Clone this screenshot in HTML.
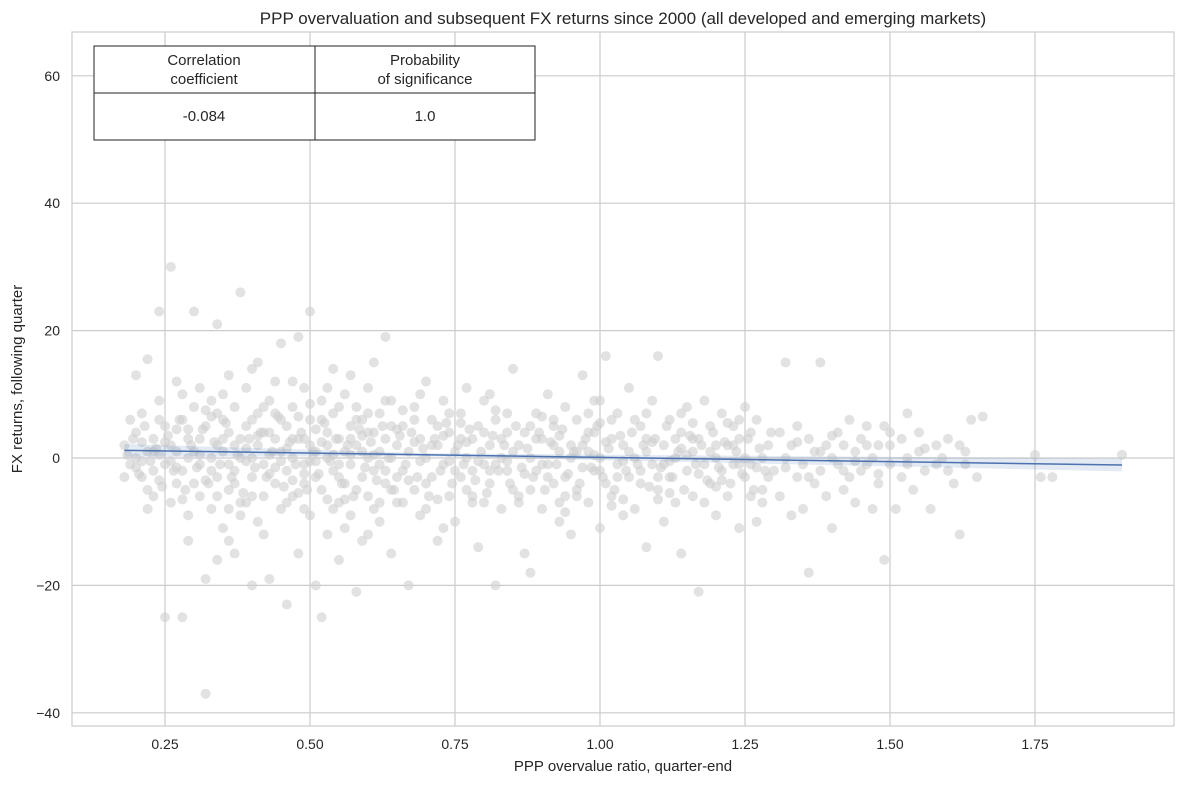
<!DOCTYPE html>
<html><head><meta charset="utf-8"><style>
body{margin:0;background:#fff;font-family:"Liberation Sans",Arial,sans-serif}
svg text{font-family:"Liberation Sans",Arial,sans-serif;fill:#262626}
</style></head><body>
<svg id="c" width="1184" height="784" xmlns="http://www.w3.org/2000/svg">
<text x="623" y="24" font-size="17" text-anchor="middle">PPP overvaluation and subsequent FX returns since 2000 (all developed and emerging markets)</text>
<text x="623" y="771" font-size="15" text-anchor="middle">PPP overvalue ratio, quarter-end</text>
<text transform="translate(22,379) rotate(-90)" font-size="15" text-anchor="middle">FX returns, following quarter</text>
<g id="grid"></g><g id="pts"></g><g id="reg"></g><g id="ticks"></g>
<rect x="72" y="32" width="1102" height="694" fill="none" stroke="#ccc" stroke-width="1.2"/>
<g>
<rect x="94" y="46" width="441" height="94" fill="#fff" stroke="#222" stroke-width="1"/>
<line x1="94" y1="93" x2="535" y2="93" stroke="#222"/>
<line x1="315" y1="46" x2="315" y2="140" stroke="#222"/>
<text x="204" y="65" font-size="15" text-anchor="middle">Correlation</text>
<text x="204" y="84" font-size="15" text-anchor="middle">coefficient</text>
<text x="425" y="65" font-size="15" text-anchor="middle">Probability</text>
<text x="425" y="84" font-size="15" text-anchor="middle">of significance</text>
<text x="204" y="121" font-size="15" text-anchor="middle">-0.084</text>
<text x="425" y="121" font-size="15" text-anchor="middle">1.0</text>
</g>
</svg>
<script>
const xTicks=[0.25,0.5,0.75,1.0,1.25,1.5,1.75];
const xTickLabels=["0.25","0.50","0.75","1.00","1.25","1.50","1.75"];
const yTicks=[-40,-20,0,20,40,60];
const yTickLabels=["\u221240","\u221220","0","20","40","60"];
const regX=[0.18,1.9];
const regY=[1.2,-1.1];
const regBand=[0.5,1.0];
const points=[[0.18,2],[0.19,-1],[0.2,4],[0.2,0],[0.21,-3],[0.21,7],[0.22,1],[0.22,-5],[0.23,3],[0.23,-2],[0.24,9],[0.24,0.5],[0.25,-1],[0.25,5],[0.25,-25],[0.26,2],[0.26,-7],[0.26,30],[0.27,-4],[0.27,12],[0.27,1],[0.28,-25],[0.28,6],[0.28,-2],[0.29,3],[0.29,-9],[0.29,0],[0.3,8],[0.3,-4],[0.3,23],[0.3,1],[0.2,13],[0.22,15.5],[0.24,23],[0.18,-3],[0.19,6],[0.21,2.5],[0.23,-6],[0.26,-0.5],[0.28,10],[0.27,4.5],[0.24,-3.5],[0.22,-8],[0.2,-1.5],[0.29,-13],[0.31,-6],
[0.31,3],[0.31,-1],[0.32,5],[0.32,-37],[0.32,-19],[0.33,0],[0.33,9],[0.33,-8],[0.34,2],[0.34,21],[0.34,-3],[0.35,6],[0.35,-11],[0.35,1],[0.36,-5],[0.36,4],[0.36,13],[0.37,-2],[0.37,8],[0.37,-15],[0.38,26],[0.38,0],[0.38,3],[0.39,-7],[0.39,11],[0.39,1.5],[0.4,-3],[0.4,6],[0.4,-20],[0.41,2],[0.41,-10],[0.41,15],[0.42,-1],[0.42,4],[0.42,-6],[0.43,9],[0.43,-19],[0.43,0.5],[0.44,3],[0.44,-4],[0.44,12],[0.45,-8],[0.45,1],[0.45,18],[0.32,-3.5],[0.33,6.5],[0.34,-6],[0.35,10],[0.36,-1],[0.37,2],[0.38,-9],[0.39,5],[0.4,0],[0.41,7],[0.42,-12],[0.43,4],[0.44,-1.5],[0.45,6],[0.31,11],[0.36,-13],[0.4,14],[0.34,-16],
[0.46,-2],[0.46,5],[0.46,-23],[0.47,0],[0.47,8],[0.47,-6],[0.48,3],[0.48,-15],[0.48,19],[0.49,-1],[0.49,11],[0.49,-4],[0.5,2],[0.5,-9],[0.5,23],[0.5,6],[0.51,-3],[0.51,-20],[0.51,1],[0.52,9],[0.52,-25],[0.52,-5],[0.53,4],[0.53,-12],[0.53,0],[0.54,7],[0.54,-2],[0.54,14],[0.55,-7],[0.55,3],[0.55,-16],[0.56,1],[0.56,10],[0.56,-4],[0.57,5],[0.57,-9],[0.57,-1],[0.58,-21],[0.58,2],[0.58,8],[0.59,-3],[0.59,6],[0.59,-13],[0.6,0],[0.6,11],[0.6,-6],[0.61,4],[0.61,-2],[0.61,15],[0.62,-10],[0.62,1],[0.62,7],[0.63,19],[0.63,-4],[0.63,3],[0.64,-15],[0.64,0],[0.64,9],[0.65,-7],[0.65,2],[0.46,1.5],[0.47,-3.5],[0.48,6.5],[0.49,-8],[0.5,-0.5],[0.51,4.5],[0.52,2.5],[0.53,-6.5],[0.54,0.5],[0.55,8],[0.56,-11],[0.57,3],[0.58,-5],[0.59,1],[0.6,4],[0.61,-8],[0.62,-1],[0.63,9],[0.64,5],[0.65,-3],[0.47,12],[0.53,11],[0.57,13],[0.6,-12],[0.49,3],[0.55,-1],
[0.66,5],[0.66,-2],[0.67,-20],[0.67,1],[0.68,8],[0.68,-5],[0.69,3],[0.69,-9],[0.7,0],[0.7,12],[0.71,-3],[0.71,6],[0.72,-13],[0.72,2],[0.73,9],[0.73,-1],[0.74,-6],[0.74,4],[0.75,1],[0.75,-10],[0.76,7],[0.76,-3],[0.77,0],[0.77,11],[0.78,-7],[0.78,3],[0.79,-14],[0.79,5],[0.8,-1],[0.8,9],[0.81,-4],[0.81,2],[0.82,-20],[0.82,6],[0.83,0],[0.83,-8],[0.84,4],[0.84,-2],[0.85,14],[0.85,-5],[0.66,-7],[0.68,2.5],[0.7,-4],[0.72,5],[0.74,-0.5],[0.76,3],[0.78,-2],[0.8,4],[0.82,-1],[0.84,7],[0.69,10],[0.73,-11],[0.77,-5],[0.81,10],
[0.86,2],[0.86,-6],[0.87,-15],[0.87,4],[0.88,0],[0.88,-18],[0.89,7],[0.89,-2],[0.9,-8],[0.9,3],[0.91,10],[0.91,-1],[0.92,-4],[0.92,5],[0.93,1],[0.93,-10],[0.94,8],[0.94,-3],[0.95,0],[0.95,-12],[0.96,6],[0.96,-5],[0.97,2],[0.97,13],[0.98,-7],[0.98,1],[0.99,4],[0.99,-2],[1.0,-11],[1.0,9],[1.0,0],[1.01,16],[1.01,-4],[1.02,3],[1.02,-6],[1.03,-1],[1.03,7],[1.04,-9],[1.04,2],[1.05,11],[1.05,-3],[0.88,5],[0.9,-1],[0.92,2],[0.94,-6],[0.96,1],[0.98,4],[1.0,-2],[1.02,6],[1.04,-0.5],[0.93,-7],[0.99,9],
[1.06,0],[1.06,-8],[1.07,5],[1.07,-2],[1.08,-14],[1.08,3],[1.09,9],[1.09,-1],[1.1,-5],[1.1,16],[1.11,2],[1.11,-10],[1.12,6],[1.12,-3],[1.13,0],[1.13,-7],[1.14,4],[1.14,-15],[1.15,-2],[1.15,8],[1.16,1],[1.16,-6],[1.17,3],[1.17,-21],[1.18,-1],[1.18,9],[1.19,5],[1.19,-4],[1.2,0],[1.2,-9],[1.21,7],[1.21,-2],[1.22,2],[1.22,-6],[1.23,-1],[1.23,5],[1.24,3],[1.24,-11],[1.25,8],[1.25,-3],[1.26,-1],[1.26,4],[1.27,-10],[1.27,6],[1.28,0],[1.28,-5],[1.29,2],[1.3,-2],[1.08,1],[1.12,-0.5],[1.16,3],[1.2,2],[1.24,-1],[1.1,-3],[1.14,1.5],
[1.31,4],[1.31,-6],[1.32,15],[1.32,0],[1.33,-9],[1.33,2],[1.34,-3],[1.34,5],[1.35,-1],[1.35,-8],[1.36,-18],[1.36,3],[1.37,1],[1.37,-4],[1.38,15],[1.38,-2],[1.39,2],[1.39,-6],[1.4,0],[1.4,-11],[1.41,4],[1.41,-1],[1.42,-5],[1.42,2],[1.43,-3],[1.43,6],[1.44,1],[1.44,-7],[1.45,-2],[1.45,3],[1.46,5],[1.46,-1],[1.47,-8],[1.47,0],[1.48,2],[1.48,-4],[1.49,-16],[1.49,5],[1.5,-1],[1.5,2],[1.51,-8],[1.52,3],[1.52,-3],[1.53,7],[1.53,-1],[1.54,-5],[1.55,1],[1.55,4],[1.56,-2],[1.57,-8],[1.58,2],[1.58,-1],[1.59,0],[1.6,3],[1.61,-4],[1.62,-12],[1.62,2],[1.63,1],[1.64,6],[1.65,-3],[1.66,6.5],
[1.75,0.5],[1.76,-3],[1.78,-3],[1.9,0.5]];
const corePoints=[[0.185,0.5],[0.195,3],[0.205,-2.5],[0.215,5],[0.225,-0.5],[0.235,1.5],[0.245,-4.5],[0.255,3.5],[0.265,-2],[0.275,6],[0.285,-5],[0.295,2],[0.305,-1.5],[0.315,4.5],[0.325,-4],[0.335,2.5],[0.345,-1],[0.355,5.5],[0.365,-3],[0.375,0.5],[0.385,-5.5],[0.395,3],[0.405,-1.5],[0.415,4],[0.425,-3],[0.435,1],[0.445,6.5],[0.455,-4.5],[0.465,2.5],[0.475,-1],[0.485,4],[0.495,-5],[0.505,1],[0.515,-2.5],[0.525,5.5],[0.535,-0.5],[0.545,3],[0.555,-4],[0.565,2],[0.575,-6],[0.585,4.5],[0.595,-1.5],[0.605,2.5],[0.615,-3.5],[0.625,5],[0.635,0],[0.645,-5],[0.655,3.5],[0.665,-1],[0.675,4],[0.685,-3],[0.695,1.5],[0.705,-6],[0.715,3],[0.725,-2],[0.735,5.5],[0.745,-4],[0.755,2],[0.765,-1],[0.775,4.5],[0.785,-3.5],[0.795,1],[0.805,-5.5],[0.815,3.5],[0.825,-2],[0.835,2],[0.845,-4],[0.855,5],[0.865,-1.5],[0.875,1.5],[0.885,-3],[0.895,4],[0.905,-5],[0.915,2.5],[0.925,-1],[0.935,4.5],[0.945,-2.5],[0.955,1],[0.965,-4],[0.975,3],[0.985,-1.5],[0.995,5],[1.005,-3],[1.015,1.5],[1.025,-5],[1.035,3.5],[1.045,-2],[1.055,4],[1.065,-1],[1.075,2],[1.085,-4.5],[1.095,3],[1.105,-1.5],[1.115,5],[1.125,-3],[1.135,1],[1.145,-5],[1.155,3.5],[1.165,-1],[1.175,2],[1.185,-3.5],[1.195,4],[1.205,-1.5],[1.215,2.5],[1.225,-4],[1.235,1],[1.245,-2.5],[1.255,3],[1.265,-5],[1.275,1.5],[1.285,-2],[1.295,4],[1.32,-1.5],[1.34,2.5],[1.36,-3],[1.38,1],[1.4,3.5],[1.42,-2],[1.44,-0.5],[1.46,2],[1.48,-2.5],[1.5,4],[1.53,0],[1.56,1.5],[1.6,-2],[1.63,-1],
[0.21,-0.5],[0.23,1],[0.25,2.5],[0.27,-1.5],[0.29,4.5],[0.31,0.5],[0.33,-2],[0.35,3],[0.37,-4],[0.39,-0.5],[0.41,3.5],[0.43,-2.5],[0.45,-0.5],[0.47,3],[0.49,-2.5],[0.51,-0.5],[0.53,2],[0.55,-3],[0.57,0.5],[0.59,3.5],[0.61,0.5],[0.63,-2],[0.65,4.5],[0.67,-3.5],[0.69,-0.5],[0.71,2],[0.73,3.5],[0.75,-2],[0.77,2.5],[0.79,-0.5],[0.81,-2],[0.83,3],[0.85,1],[0.87,-2.5],[0.89,3],[0.91,-3],[0.93,3.5],[0.95,2],[0.97,-1.5],[0.99,0.5],[1.01,2.5],[1.03,-3],[1.05,1],[1.07,-4],[1.09,2.5],[1.11,-1],[1.13,3],[1.15,0.5],[1.17,-2.5],[1.19,1],[1.21,-3.5],[1.23,2],[1.25,0],[1.27,-1.5],[1.29,-3],[0.34,7],[0.38,-7],[0.42,8],[0.46,-7],[0.5,8.5],[0.54,-8],[0.58,6],[0.62,-7],[0.66,7.5],[0.7,-8],[0.74,7],[0.78,-6],[0.82,7.5],[0.86,-7],[0.9,6.5],[0.94,-8.5],[0.98,7],[1.02,-7.5],[1.06,6],[1.1,-6.5],[1.14,7],[1.18,-7],[1.22,5.5],[1.26,-6],[0.24,6],[0.28,-6.5],[0.32,7.5],[0.36,-8],[0.4,-6],[0.44,7],[0.48,-5.5],[0.52,6],[0.56,-6.5],[0.6,7],[0.64,-5],[0.68,6],[0.72,-6.5],[0.76,5.5],[0.8,-7],[0.84,-0.5],[0.88,-5],[0.92,6],[0.96,-6],[1.0,5.5],[1.04,-6.5],[1.08,7],[1.12,-5.5],[1.16,5.5],[1.2,-4.5],[1.24,6],[1.28,-7]];
const NS="http://www.w3.org/2000/svg";
const X=v=>20+580*v, Y=v=>458-6.37*v;
function mk(t,a,p){const e=document.createElementNS(NS,t);for(const k in a)e.setAttribute(k,a[k]);p.appendChild(e);return e;}
const grid=document.getElementById('grid'),ticks=document.getElementById('ticks'),pts=document.getElementById('pts'),reg=document.getElementById('reg');
xTicks.forEach((v,i)=>{
 const l=mk('line',{x1:X(v),x2:X(v),y1:32,y2:726,stroke:'#ccc','stroke-width':1.2},grid);
 
 
 const t=mk('text',{x:X(v),y:749,'font-size':14,'text-anchor':'middle'},ticks);t.textContent=xTickLabels[i];
 
 
});
yTicks.forEach((v,i)=>{
 const l=mk('line',{x1:72,x2:1174,y1:Y(v),y2:Y(v),stroke:'#ccc','stroke-width':1.2},grid);
 
 
 const t=mk('text',{x:60,y:Y(v)+5,'font-size':14,'text-anchor':'end'},ticks);t.textContent=yTickLabels[i];
 
 
});
points.concat(corePoints).forEach(p=>{
 const c=mk('circle',{cx:X(p[0]),cy:Y(p[1]),r:5,fill:'#cfcfcf','fill-opacity':0.6},pts);
 
 
});
const midY=regY[0]+(regY[1]-regY[0])*(0.7-regX[0])/(regX[1]-regX[0]);
const band=mk('path',{d:`M${X(regX[0])},${Y(regY[0]+regBand[1])} L${X(0.7)},${Y(midY+regBand[0]*0.5)} L${X(regX[1])},${Y(regY[1]+regBand[1])} L${X(regX[1])},${Y(regY[1]-regBand[1])} L${X(0.7)},${Y(midY-regBand[0]*0.5)} L${X(regX[0])},${Y(regY[0]-regBand[1])} Z`,fill:'#4c72b0','fill-opacity':0.15},reg);


const rl=mk('line',{x1:X(regX[0]),y1:Y(regY[0]),x2:X(regX[1]),y2:Y(regY[1]),stroke:'#4c72b0','stroke-width':1.5},reg);


</script>
</body></html>
